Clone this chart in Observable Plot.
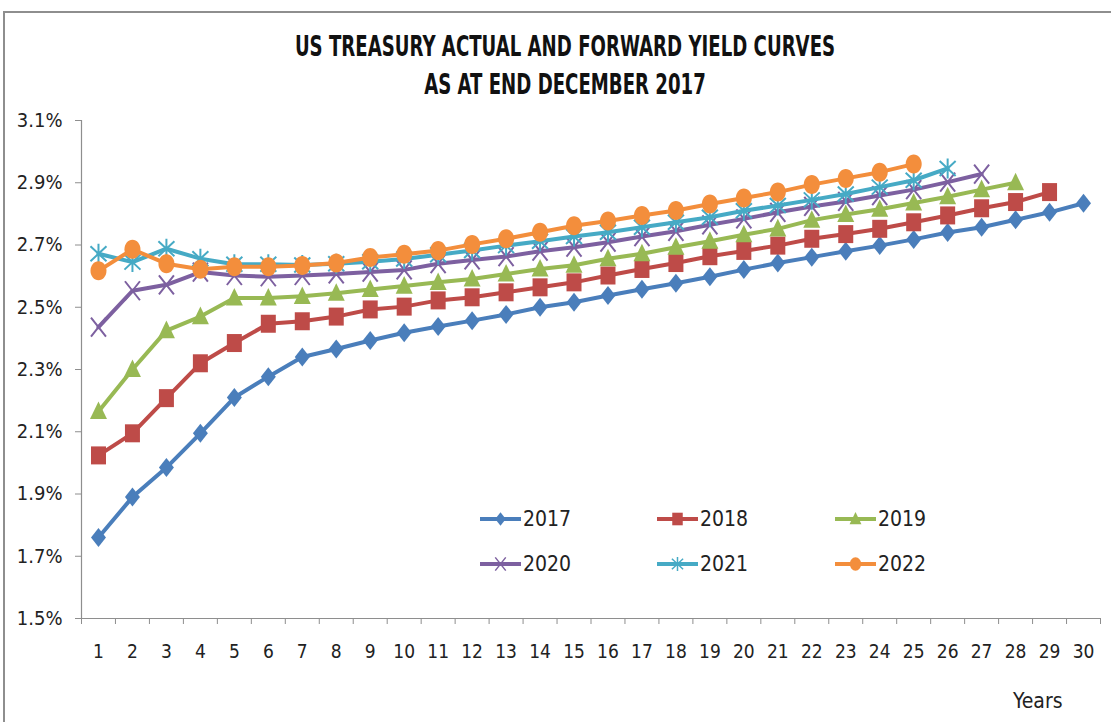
<!DOCTYPE html>
<html>
<head>
<meta charset="utf-8">
<script src="https://cdn.jsdelivr.net/npm/d3@7"></script>
<script src="https://cdn.jsdelivr.net/npm/@observablehq/plot@0.6"></script>
<style>
  html, body { margin: 0; padding: 0; background: #fff; }
  #wrap { position: relative; width: 1111px; height: 722px; overflow: hidden; background: #fff;
          font-family: "Liberation Sans Narrow", "DejaVu Sans Condensed", "Liberation Sans", sans-serif; }
  #frame { position: absolute; left: 3px; top: 11px; width: 1200px; height: 800px; border: 2px solid #8e8e8e; }
  .title { position: absolute; left: 0; width: 1130px; text-align: center; font-weight: bold; font-size: 28px; color: #111; line-height: 1;
           transform: scaleX(0.72); transform-origin: 565px 0; white-space: nowrap; }
  #chart { position: absolute; left: 0; top: 0; }
  #legend { position: absolute; left: 0; top: 0; }
  #years { position: absolute; left: 1013px; top: 689px; font-size: 21px; color: #222; }
</style>
</head>
<body>
<div id="wrap">
  <div id="frame"></div>
  <div class="title" style="top:33px">US TREASURY ACTUAL AND FORWARD YIELD CURVES</div>
  <div class="title" style="top:71px">AS AT END DECEMBER 2017</div>
  <div id="chart"></div>
  <svg id="legend" width="1111" height="722"></svg>
  <div id="years">Years</div>
</div>
<script>
// ---- Data ----
const maturities = [1,2,3,4,5,6,7,8,9,10,11,12,13,14,15,16,17,18,19,20,21,22,23,24,25,26,27,28,29,30];
const seriesNames = ["2017","2018","2019","2020","2021","2022"];
const y2017 = [1.760,1.890,1.985,2.095,2.210,2.277,2.340,2.366,2.393,2.418,2.438,2.457,2.477,2.500,2.516,2.538,2.558,2.577,2.598,2.621,2.642,2.661,2.680,2.698,2.718,2.740,2.757,2.781,2.805,2.834];
const y2018 = [2.024,2.095,2.208,2.320,2.385,2.447,2.455,2.470,2.493,2.502,2.522,2.532,2.548,2.564,2.580,2.602,2.623,2.642,2.664,2.681,2.698,2.720,2.735,2.752,2.773,2.795,2.818,2.838,2.870];
const y2019 = [2.165,2.300,2.425,2.470,2.530,2.530,2.535,2.545,2.557,2.568,2.580,2.591,2.607,2.623,2.635,2.656,2.672,2.693,2.712,2.733,2.752,2.780,2.798,2.815,2.835,2.855,2.878,2.900];
const y2020 = [2.436,2.553,2.572,2.613,2.602,2.598,2.602,2.607,2.613,2.620,2.640,2.652,2.663,2.680,2.693,2.709,2.727,2.744,2.765,2.784,2.805,2.824,2.840,2.859,2.878,2.902,2.928];
const y2021 = [2.672,2.645,2.688,2.656,2.638,2.638,2.636,2.640,2.646,2.655,2.669,2.682,2.698,2.712,2.727,2.741,2.757,2.773,2.789,2.810,2.827,2.845,2.864,2.886,2.908,2.946];
const y2022 = [2.617,2.686,2.640,2.622,2.630,2.630,2.634,2.642,2.660,2.670,2.682,2.702,2.720,2.741,2.762,2.777,2.795,2.811,2.832,2.851,2.870,2.894,2.914,2.934,2.960];
const yTicks = [1.5,1.7,1.9,2.1,2.3,2.5,2.7,2.9,3.1];

const seriesValues = [y2017,y2018,y2019,y2020,y2021,y2022];
const colors = ["#4A7EBB","#BE4B48","#98B954","#7D60A0","#46AAC5","#F38E3C"];

// ---- custom marker shapes (style only) ----
function shape(kind, hw, hh) {
  return {
    draw(ctx) {
      if (kind === "diamond") {
        ctx.moveTo(0,-hh); ctx.lineTo(hw,0); ctx.lineTo(0,hh); ctx.lineTo(-hw,0); ctx.closePath();
      } else if (kind === "square") {
        ctx.moveTo(-hw,-hh); ctx.lineTo(hw,-hh); ctx.lineTo(hw,hh); ctx.lineTo(-hw,hh); ctx.closePath();
      } else if (kind === "triangle") {
        ctx.moveTo(0,-hh*1.05); ctx.lineTo(hw,hh*0.8); ctx.lineTo(-hw,hh*0.8); ctx.closePath();
      } else if (kind === "times") {
        ctx.moveTo(-hw,-hh); ctx.lineTo(hw,hh); ctx.moveTo(hw,-hh); ctx.lineTo(-hw,hh);
      } else if (kind === "asterisk") {
        ctx.moveTo(-hw,-hh*0.75); ctx.lineTo(hw,hh*0.75); ctx.moveTo(hw,-hh*0.75); ctx.lineTo(-hw,hh*0.75);
        ctx.moveTo(0,-hh); ctx.lineTo(0,hh);
      } else if (kind === "ellipse") {
        const k = 0.5523;
        ctx.moveTo(hw,0);
        ctx.bezierCurveTo(hw, k*hh, k*hw, hh, 0, hh);
        ctx.bezierCurveTo(-k*hw, hh, -hw, k*hh, -hw, 0);
        ctx.bezierCurveTo(-hw, -k*hh, -k*hw, -hh, 0, -hh);
        ctx.bezierCurveTo(k*hw, -hh, hw, -k*hh, hw, 0);
        ctx.closePath();
      }
    }
  };
}
const kinds = ["diamond","square","triangle","times","asterisk","ellipse"];
const filled = [true,true,true,false,false,true];
const dims = [[7.5,9.5],[7.5,9],[8.5,9.5],[7.5,9.5],[8,10],[8,9.5]];

const table = [];
seriesNames.forEach((s,i) => seriesValues[i].forEach((v,j) => table.push({series:s, maturity: maturities[j], value: v})));

const FONT = '"Liberation Sans Narrow", "DejaVu Sans Condensed", "Liberation Sans", sans-serif';
const marks = [
  Plot.axisY({ticks: yTicks, tickFormat: d => d.toFixed(1) + "%", tickSize: 6, tickPadding: 13, stroke: "#8e8e8e", fill: "#222", label: null, fontSize: 20}),
  Plot.axisX({ticks: maturities.map(d => d - 0.5).concat([maturities[maturities.length-1] + 0.5]), tickFormat: () => "", tickSize: 6, stroke: "#8e8e8e", label: null}),
  Plot.axisX({ticks: maturities, tickFormat: d => String(d), tickSize: 0, tickPadding: 26, fill: "#222", label: null, fontSize: 19}),
  Plot.ruleX([0.5], {stroke: "#8e8e8e", strokeWidth: 1.2}),
  Plot.ruleY([1.5], {stroke: "#8e8e8e", strokeWidth: 1.2})
];
seriesNames.forEach((s,i) => {
  const d = table.filter(r => r.series === s);
  marks.push(Plot.line(d, {x: "maturity", y: "value", stroke: colors[i], strokeWidth: 4}));
  const sym = shape(kinds[i], dims[i][0], dims[i][1]);
  marks.push(Plot.dot(d, filled[i]
    ? {x: "maturity", y: "value", symbol: () => sym, r: 5, fill: colors[i], stroke: "none"}
    : {x: "maturity", y: "value", symbol: () => sym, r: 5, fill: "none", stroke: colors[i], strokeWidth: 2}));
});

const chart = Plot.plot({
  width: 1111, height: 722,
  marginLeft: 81, marginRight: 11, marginTop: 120, marginBottom: 104,
  x: {type: "linear", domain: [0.5, 30.5]},
  y: {domain: [1.5, 3.1]},
  symbol: {type: "identity"},
  style: {background: "transparent", fontFamily: FONT, fontSize: "20px", color: "#222", overflow: "visible"},
  marks
});
document.getElementById("chart").appendChild(chart);

// ---- legend overlay ----
const lg = d3.select("#legend");
const legendPos = [[480,519],[657,519],[835,519],[480,564],[657,564],[835,564]];
seriesNames.forEach((s,i) => {
  const [x0,y0] = legendPos[i];
  const g = lg.append("g").attr("transform", `translate(${x0},${y0})`);
  g.append("line").attr("x1",0).attr("x2",41).attr("y1",0).attr("y2",0).attr("stroke",colors[i]).attr("stroke-width",4);
  const p = d3.path();
  shape(kinds[i], dims[i][0]*0.7, dims[i][1]*0.7).draw(p);
  g.append("path").attr("d", p.toString()).attr("transform","translate(20.5,0)")
    .attr("fill", filled[i] ? colors[i] : "none").attr("stroke", filled[i] ? "none" : colors[i]).attr("stroke-width", 1.5);
  g.append("text").attr("x",43).attr("y",0).attr("dy","0.35em").attr("font-size",21).attr("fill","#222")
    .attr("font-family", FONT).text(s);
});
</script>
</body>
</html>
